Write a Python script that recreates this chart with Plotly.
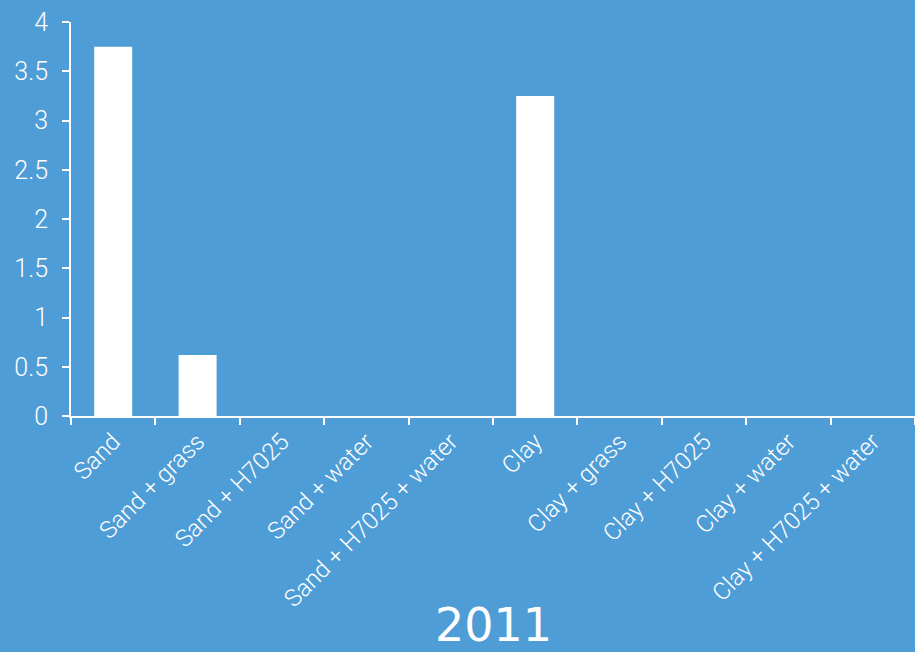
import plotly.graph_objects as go

categories = ["Sand", "Sand + grass", "Sand + H7025", "Sand + water", "Sand + H7025 + water",
              "Clay", "Clay + grass", "Clay + H7025", "Clay + water", "Clay + H7025 + water"]
values = [3.75, 0.62, 0, 0, 0, 3.25, 0, 0, 0, 0]
y_ticks = [0, 0.5, 1, 1.5, 2, 2.5, 3, 3.5, 4]
y_tick_labels = ["0", "0.5", "1", "1.5", "2", "2.5", "3", "3.5", "4"]

bg = "#4F9DD6"
lab_font = "Roboto, sans-serif"
fig = go.Figure(go.Bar(x=categories, y=values, marker=dict(color="white", line=dict(width=0)), width=0.45))
fig.update_layout(
    width=915, height=652,
    paper_bgcolor=bg, plot_bgcolor=bg,
    margin=dict(l=71, r=0, t=22, b=236),
    showlegend=False,
    font=dict(family=lab_font, color="white"),
    annotations=[dict(text="2011", xref="paper", yref="paper", x=0.5, y=-0.53,
                      xanchor="center", yanchor="middle", showarrow=False,
                      font=dict(family="DejaVu Sans", size=46, color="white"))],
)
fig.update_yaxes(range=[0, 4], tickvals=y_ticks, ticktext=y_tick_labels, showgrid=False,
                 showline=True, linecolor="white", linewidth=2, ticks="outside", ticklen=7,
                 tickcolor="white", tickwidth=2, ticklabelstandoff=9,
                 tickfont=dict(family=lab_font, size=25, color="white", weight=300), zeroline=False)
fig.update_xaxes(showgrid=False, showline=True, linecolor="white", linewidth=2, ticks="outside",
                 ticklen=7, tickcolor="white", tickwidth=2, tickson="boundaries", tickangle=-45,
                 tickfont=dict(family=lab_font, size=24, color="white", weight=300), range=[-0.5, 9.5])
fig.write_html("out.html", config={"displayModeBar": False},
               post_script="document.body.style.margin='0';document.body.style.background='" + bg + "';")
